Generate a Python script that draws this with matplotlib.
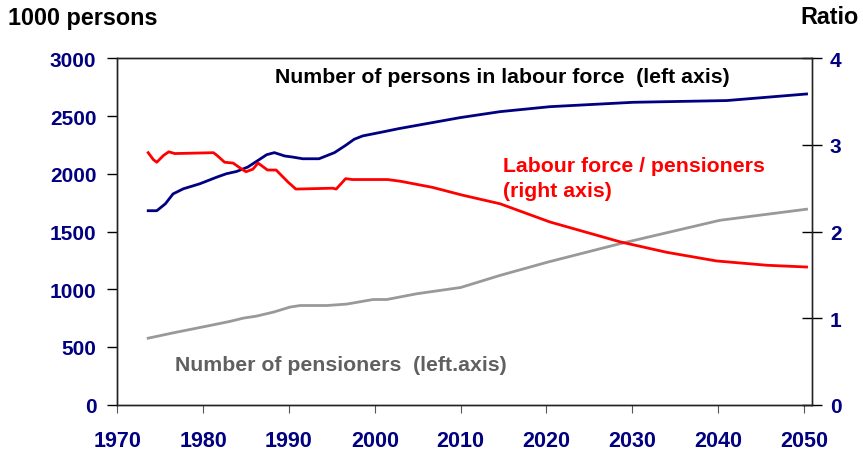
import matplotlib
matplotlib.use('Agg')
import matplotlib.pyplot as plt

plt.rcParams['font.family'] = ['Liberation Sans', 'DejaVu Sans']
plt.rcParams['font.weight'] = 'bold'

NAVY = '#000080'

# labour force, 1000 persons (left axis)
lf_years = [1973.6, 1974.6, 1975.6, 1976.5, 1977.7, 1979.6, 1981.6, 1982.7, 1983.9,
            1985.2, 1986.4, 1987.4, 1988.3, 1989.5, 1990.4, 1991.6, 1993.5, 1995.3,
            1996.6, 1997.6, 1998.6, 2000.9, 2002.8, 2010, 2014.6, 2020.4, 2030.1,
            2041.0, 2050.3]
lf_values = [1680, 1680, 1740, 1826, 1870, 1913, 1971, 2000, 2020,
             2058, 2116, 2165, 2183, 2154, 2145, 2130, 2130, 2183,
             2246, 2299, 2328, 2362, 2391, 2487, 2538, 2581, 2619,
             2634, 2691]

# pensioners, 1000 persons (left axis)
pen_years = [1973.6, 1976.5, 1980.4, 1983.1, 1984.7, 1986.2, 1988.2, 1990.1, 1991.3,
             1994.4, 1996.7, 1999.8, 2001.4, 2004.9, 2010, 2014.6, 2020.2, 2028.6,
             2040.2, 2050.3]
pen_values = [576, 622, 680, 721, 750, 767, 802, 845, 859,
              859, 871, 911, 911, 961, 1015, 1120, 1236, 1395,
              1597, 1693]

# labour force / pensioners ratio (right axis)
ratio_years = [1973.6, 1974.2, 1974.6, 1975.4, 1976.0, 1976.7, 1981.2, 1981.6, 1982.5,
               1983.5, 1984.5, 1985.0, 1985.8, 1986.4, 1987.5, 1988.5, 1989.9, 1990.8,
               1995.1, 1995.5, 1996.6, 1997.4, 2001.5, 2003.0, 2006.7, 2010.2, 2014.6,
               2020.4, 2028.6, 2034.0, 2039.8, 2045.7, 2050.3]
ratio_values = [2.91, 2.83, 2.80, 2.88, 2.92, 2.90, 2.91, 2.88, 2.80,
                2.79, 2.72, 2.69, 2.72, 2.79, 2.71, 2.71, 2.57, 2.49,
                2.50, 2.49, 2.61, 2.60, 2.60, 2.58, 2.51, 2.42, 2.32,
                2.11, 1.88, 1.76, 1.66, 1.61, 1.59]

x_ticks = list(range(1970, 2051, 10))
left_ticks = list(range(0, 3001, 500))
right_ticks = [0, 1, 2, 3, 4]

fig = plt.figure(figsize=(8.63, 4.52), dpi=100)
ax = fig.add_axes([117.3 / 863, 1 - 405.7 / 452, (811.7 - 117.3) / 863, (405.7 - 59.3) / 452])
ax2 = ax.twinx()

ax.plot(lf_years, lf_values, color=NAVY, lw=2.0)
ax.plot(pen_years, pen_values, color='#999999', lw=2.0)
ax2.plot(ratio_years, ratio_values, color='#ff0000', lw=2.0)

ax.set_xlim(1970, 2050.9)
ax.set_ylim(0, 3000)
ax2.set_ylim(0, 4)
ax.set_xticks(x_ticks)
ax.set_yticks(left_ticks)
ax2.set_yticks(right_ticks)

for a in (ax, ax2):
    for s in a.spines.values():
        s.set_linewidth(1.0)
        s.set_color('#222222')
ax.spines['right'].set_color('#444444')

ax.tick_params(axis='x', direction='out', length=6, width=0.8, color='#555555',
               labelsize=15.5, labelcolor=NAVY, pad=12)
ax.tick_params(axis='y', direction='out', length=7, width=1, labelsize=15,
               labelcolor=NAVY, pad=8)
ax2.tick_params(axis='y', direction='inout', length=14, width=1, labelsize=15,
                labelcolor=NAVY, pad=6)
for lab in ax.get_xticklabels() + ax.get_yticklabels() + ax2.get_yticklabels():
    lab.set_fontweight('bold')

ax.text(1988.4, 2843, 'Number of persons in labour force  (left axis)',
        fontsize=15.3, fontweight='bold', color='black', ha='left', va='center')
ax.text(2014.9, 2072, 'Labour force / pensioners', fontsize=15.3,
        fontweight='bold', color='#ff0000', ha='left', va='center')
ax.text(2014.9, 1855, '(right axis)', fontsize=15.3,
        fontweight='bold', color='#ff0000', ha='left', va='center')
ax.text(1976.7, 345, 'Number of pensioners  (left.axis)', fontsize=15.3,
        fontweight='bold', color='#606060', ha='left', va='center')

fig.text(8 / 863, 1 - 18 / 452, '1000 persons', fontsize=16.8, fontweight='bold',
         ha='left', va='center')
fig.text(800 / 863, 1 - 18 / 452, 'Ratio', fontsize=16.8, fontweight='bold',
         ha='left', va='center')

fig.savefig('out.png', dpi=100)
